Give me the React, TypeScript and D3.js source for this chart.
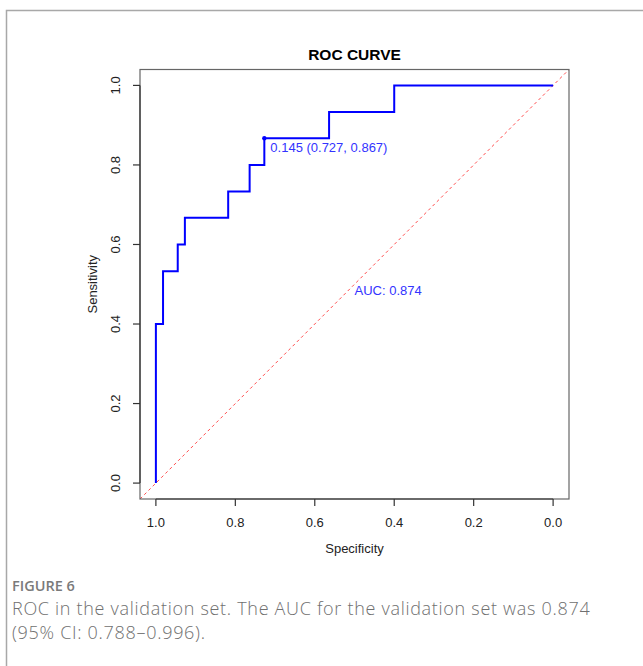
import React from 'react';
import * as d3 from 'd3';

// ROC step corners (specificity, sensitivity)
const specificity = [1.0, 1.0, 0.982, 0.945, 0.927, 0.818, 0.764, 0.727, 0.564, 0.4, 0.0];
const sensitivity = [0.0, 0.4, 0.533, 0.6, 0.667, 0.733, 0.8, 0.867, 0.933, 1.0, 1.0];
const tickValues = [1.0, 0.8, 0.6, 0.4, 0.2, 0.0];
const bestThreshold = { thres: 0.145, spec: 0.727, sens: 0.867 };
const aucValue = 0.874;
const captionLines = [
  'ROC in the validation set. The AUC for the validation set was 0.874',
  '(95% CI: 0.788–0.996).',
];

export default function App() {
  const width = 643;
  const height = 666;
  const box = { left: 140, top: 69.5, right: 569, bottom: 499 };
  const font = '"Liberation Sans", Arial, sans-serif';

  // R style 4% extension on both ends
  const xScale = d3.scaleLinear().domain([1.04, -0.04]).range([box.left, box.right]);
  const yScale = d3.scaleLinear().domain([-0.04, 1.04]).range([box.bottom, box.top]);

  const points = specificity.map((s, i) => [s, sensitivity[i]] as [number, number]);
  const rocLine = d3.line<[number, number]>()
    .x(d => xScale(d[0]))
    .y(d => yScale(d[1]))
    .curve(d3.curveStepAfter);

  const tickLen = 7;
  const midX = (box.left + box.right) / 2;
  const midY = (box.top + box.bottom) / 2;

  const px = xScale(bestThreshold.spec);
  const py = yScale(bestThreshold.sens);

  return (
    <svg width={width} height={height} style={{ position: 'absolute', left: 0, top: 0, display: 'block' }}>
      <rect x={0} y={0} width={width} height={height} fill="#fff" />
      {/* figure frame */}
      <path d={`M6.5,${height} V10.5 H${width}`} fill="none" stroke="#a8a8a8" strokeWidth={1.5} />

      <text x={midX} y={60} textAnchor="middle" fontFamily={font} fontWeight="bold" fontSize={15.5} fill="#000">
        ROC CURVE
      </text>

      {/* chance line */}
      <line
        x1={xScale(1.04)} y1={yScale(-0.04)} x2={xScale(-0.04)} y2={yScale(1.04)}
        stroke="#ff3b3b" strokeWidth={1} strokeDasharray="3,3" opacity={0.9}
      />

      <path d={rocLine(points) || ''} fill="none" stroke="#0000ff" strokeWidth={2} />
      <circle cx={px} cy={py} r={2.2} fill="#0000ff" />
      <text x={px + 6} y={py + 13.5} fontFamily={font} fontSize={13} fill="#3333ff">
        {`${bestThreshold.thres} (${bestThreshold.spec}, ${bestThreshold.sens})`}
      </text>
      <text x={xScale(0.5)} y={yScale(0.5) + 11} fontFamily={font} fontSize={13} fill="#3333ff">
        {`AUC: ${aucValue}`}
      </text>

      {/* plot box */}
      <rect x={box.left} y={box.top} width={box.right - box.left} height={box.bottom - box.top}
        fill="none" stroke="#666" strokeWidth={1.2} />

      {/* x axis */}
      <g>
        <line x1={xScale(1)} x2={xScale(0)} y1={box.bottom} y2={box.bottom} stroke="#333" strokeWidth={1.2} />
        {tickValues.map(t => (
          <g key={`x${t}`} transform={`translate(${xScale(t)},${box.bottom})`}>
            <line y1={0} y2={tickLen} stroke="#333" strokeWidth={1.2} />
            <text y={28} textAnchor="middle" fontFamily={font} fontSize={13} fill="#222">
              {t.toFixed(1)}
            </text>
          </g>
        ))}
        <text x={midX} y={553} textAnchor="middle" fontFamily={font} fontSize={13} fill="#222">
          Specificity
        </text>
      </g>

      {/* y axis */}
      <g>
        <line x1={box.left} x2={box.left} y1={yScale(0)} y2={yScale(1)} stroke="#333" strokeWidth={1.2} />
        {tickValues.map(t => (
          <g key={`y${t}`} transform={`translate(${box.left},${yScale(t)})`}>
            <line x1={0} x2={-tickLen} stroke="#333" strokeWidth={1.2} />
            <text transform="translate(-20,0) rotate(-90)" textAnchor="middle" fontFamily={font} fontSize={13} fill="#222">
              {t.toFixed(1)}
            </text>
          </g>
        ))}
        <text transform={`translate(97,${midY}) rotate(-90)`} textAnchor="middle" fontFamily={font} fontSize={13} fill="#222">
          Sensitivity
        </text>
      </g>

      {/* caption */}
      <text x={12} y={591} fontFamily='"Open Sans", sans-serif' fontWeight={600} fontSize={14.5} fill="#7a7a7a">
        FIGURE 6
      </text>
      {captionLines.map((line, i) => (
        <text key={i} x={12} y={615 + i * 24} fontFamily='"Open Sans", sans-serif' fontWeight={300} fontSize={18}
          letterSpacing={0.7} fill="#707070">
          {line}
        </text>
      ))}
    </svg>
  );
}
